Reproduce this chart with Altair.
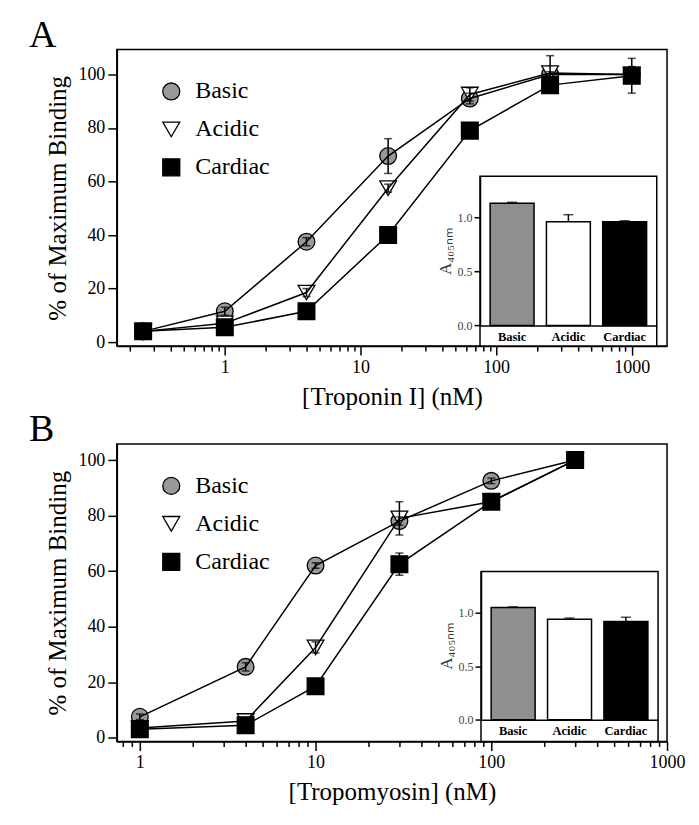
import altair as alt
import pandas as pd

FONT = "Liberation Serif"

# ---------------- data ----------------
series = ["Basic", "Acidic", "Cardiac"]

# Panel A : Troponin I
conc_A = [0.25, 1, 4, 16, 64, 250, 1000]
basic_A = [4, 11.5, 37.5, 69.5, 91, 100, 100]
acidic_A = [4, 7, 18.5, 57.5, 92.5, 100.5, 100]
cardiac_A = [4, 5.5, 11.5, 40, 79, 96, 99.5]
basic_err_A = [2, 1.5, 1.5, 6.5, 2, 1, 0.5]
acidic_err_A = [1.5, 1, 1.5, 1.5, 2.5, 6.5, 0.5]
cardiac_err_A = [2, 1, 1, 1, 1.5, 1, 6.5]

# Panel B : Tropomyosin
conc_B = [1, 4, 10, 30, 100, 300]
basic_B = [7.5, 25.5, 62, 78, 92.5, 100]
acidic_B = [3.5, 6, 32.5, 79, 85, 100]
cardiac_B = [3, 4.5, 18.5, 62.5, 85, 100]
basic_err_B = [1, 1.5, 1, 1.5, 1, 1]
acidic_err_B = [1, 1, 2, 6, 1, 1]
cardiac_err_B = [1, 1, 1, 4, 1, 1.5]

# Insets: A405nm
abs_A = [1.13, 0.96, 0.96]
abs_err_A = [0.01, 0.065, 0.01]
abs_B = [1.05, 0.94, 0.92]
abs_err_B = [0.007, 0.012, 0.04]

minor_A = [0.2, 0.3, 0.4, 0.5, 0.6, 0.7, 0.8, 0.9, 1, 2, 3, 4, 5, 6, 7, 8, 9,
           10, 20, 30, 40, 50, 60, 70, 80, 90, 100, 200, 300, 400, 500, 600,
           700, 800, 900, 1000]
minor_B = [0.8, 0.9, 1, 2, 3, 4, 5, 6, 7, 8, 9, 10, 20, 30, 40, 50, 60, 70, 80,
           90, 100, 200, 300, 400, 500, 600, 700, 800, 900, 1000]
y_ticks = [0, 20, 40, 60, 80, 100]
inset_ticks = [0, 0.5, 1.0]

MAJOR = "datum.value == 1 || datum.value == 10 || datum.value == 100 || datum.value == 1000"


def long_df(conc, vals, errs):
    rows = []
    for s, v, e in zip(series, vals, errs):
        for c, vv, ee in zip(conc, v, e):
            rows.append({"series": s, "conc": c, "val": vv, "lo": vv - ee, "hi": vv + ee})
    return pd.DataFrame(rows)


def panel(letter, df, xdom, xticks, xtitle, ydom, W, H,
          icats_vals, icats_err, inset_box, idom):
    def X():
        return alt.X("conc:Q",
                     scale=alt.Scale(type="log", domain=xdom, nice=False),
                     axis=alt.Axis(values=xticks, title=xtitle,
                                   labelExpr=f"({MAJOR}) ? toString(datum.value) : ''",
                                   tickSize={"condition": {"test": MAJOR, "value": 9}, "value": 5},
                                   labelFont=FONT, titleFont=FONT,
                                   labelFontSize=18, titleFontSize=25,
                                   labelPadding=3, titlePadding=8,
                                   labelOverlap=False, labelFlush=False))

    def Y(field):
        return alt.Y(f"{field}:Q",
                     scale=alt.Scale(domain=ydom, nice=False, zero=False),
                     axis=alt.Axis(values=y_ticks, title="% of Maximum Binding",
                                   labelFont=FONT, titleFont=FONT,
                                   tickSize=9, labelFontSize=18, titleFontSize=25,
                                   labelPadding=3, titlePadding=7))

    legend = alt.Legend(orient="none", legendX=42.5, legendY=30, title=None,
                        labelFont=FONT, labelFontSize=24, labelColor="black",
                        symbolSize=289, symbolStrokeColor="black",
                        symbolStrokeWidth=1.3, labelOffset=12, rowPadding=14,
                        padding=0)
    shape = alt.Shape("series:N", sort=series,
                      scale=alt.Scale(domain=series, range=["circle", "triangle-down", "square"]),
                      legend=legend)
    fill = alt.Fill("series:N", sort=series,
                    scale=alt.Scale(domain=series, range=["#999999", "white", "black"]),
                    legend=legend)
    stroke = alt.Stroke("series:N", sort=series,
                        scale=alt.Scale(domain=series, range=["black", "black", "black"]),
                        legend=legend)

    base = alt.Chart(df)
    pts = base.mark_point(filled=True, size=280, strokeWidth=1.3,
                          opacity=1).encode(x=X(), y=Y("val"), shape=shape, fill=fill,
                                            stroke=stroke)
    lines = base.mark_line(color="black", strokeWidth=1.5).encode(
        x=X(), y=Y("val"), detail="series:N")
    err = base.mark_rule(color="black", strokeWidth=1.5).encode(
        x=X(), y=Y("lo"), y2="hi:Q")
    cap_hi = base.mark_tick(orient="horizontal", size=8, thickness=1.5,
                            color="black").encode(x=X(), y=Y("hi"))
    cap_lo = base.mark_tick(orient="horizontal", size=8, thickness=1.5,
                            color="black").encode(x=X(), y=Y("lo"))
    main = alt.layer(pts, lines, err, cap_hi, cap_lo)

    # ---- inset ----
    x0, x1, y0, y1, ybot = inset_box
    idf = pd.DataFrame({"cat": series, "abs": icats_vals,
                        "hi": [v + e for v, e in zip(icats_vals, icats_err)]})
    ix = alt.X("cat:N", sort=series,
               scale=alt.Scale(domain=series, range=[x0, x1],
                               paddingInner=0.22, paddingOuter=0.18),
               axis=alt.Axis(orient="bottom", offset=-(H - y0), title=None,
                             labelAngle=0, labelFont=FONT, labelFontWeight="bold",
                             labelFontSize=12.5, tickSize=0, labelPadding=5,
                             zindex=2))

    def IY(field):
        return alt.Y(f"{field}:Q",
                     scale=alt.Scale(domain=idom, range=[y0, y1], nice=False, zero=True),
                     axis=alt.Axis(orient="left", offset=-x0, values=inset_ticks,
                                   format=".1f", title="A₄₀₅ₙₘ", titleFontSize=17,
                                   titleFont=FONT, labelFont=FONT,
                                   labelFontSize=12, labelColor="#444444",
                                   titleColor="#333333", tickSize=6, labelPadding=2,
                                   titlePadding=3, zindex=2))

    frame = alt.Chart(pd.DataFrame({"k": [0]})).mark_rect(
        fill="white", stroke="black", strokeWidth=1.5).encode(
        x=alt.value(x0), x2=alt.value(x1), y=alt.value(y1), y2=alt.value(ybot))
    ib = alt.Chart(idf)
    bars = ib.mark_bar(stroke="black", strokeWidth=1.5).encode(
        x=ix, y=IY("abs"),
        fill=alt.Fill("cat:N", sort=series,
                      scale=alt.Scale(domain=series, range=["#8f8f8f", "white", "black"]),
                      legend=None))
    ierr = ib.mark_rule(color="black", strokeWidth=1.5).encode(x=ix, y=IY("abs"), y2="hi:Q")
    icap = ib.mark_tick(orient="horizontal", size=10, thickness=1.5,
                        color="black").encode(x=ix, y=IY("hi"))
    label = alt.Chart(pd.DataFrame({"t": [letter]})).mark_text(
        font=FONT, fontSize=38, align="left", baseline="alphabetic", color="black"
    ).encode(text="t:N", x=alt.value(-88), y=alt.value(-3))
    inset = alt.layer(frame, ierr, icap, bars, label)

    return alt.layer(main, inset).resolve_scale(
        x="independent", y="independent", fill="independent",
        shape="independent", stroke="independent"
    ).properties(width=W, height=H)


dfA = long_df(conc_A, [basic_A, acidic_A, cardiac_A], [basic_err_A, acidic_err_A, cardiac_err_A])
dfB = long_df(conc_B, [basic_B, acidic_B, cardiac_B], [basic_err_B, acidic_err_B, cardiac_err_B])

W = 551
panelA = panel("A", dfA, [0.16, 1820], minor_A, "[Troponin I] (nM)", [-1.5, 109.3], W, 297,
               abs_A, abs_err_A, (363.7, 540.7, 276.3, 127, 297), [0, 1.38])
panelB = panel("B", dfB, [0.74, 1000], minor_B, "[Tropomyosin] (nM)", [-1.4, 105.8], W, 298,
               abs_B, abs_err_B, (364.7, 542, 276.2, 127.8, 298), [0, 1.387])

chart = alt.vconcat(panelA, panelB, spacing=0).properties(
    padding={"left": 20, "top": 7, "right": 5, "bottom": 5}
).configure_view(stroke="black", strokeWidth=1.5).configure_axis(
    domainColor="black", tickColor="black", domainWidth=1.5, tickWidth=1.5,
    grid=False, labelFont=FONT, titleFont=FONT, labelColor="black",
    titleColor="black", titleFontWeight="normal"
).configure_legend(
    labelFont=FONT, labelFontSize=24, labelColor="black",
    symbolStrokeColor="black", symbolStrokeWidth=1.3
)

chart.save("out.html", embed_options={"renderer": "svg", "actions": False})
